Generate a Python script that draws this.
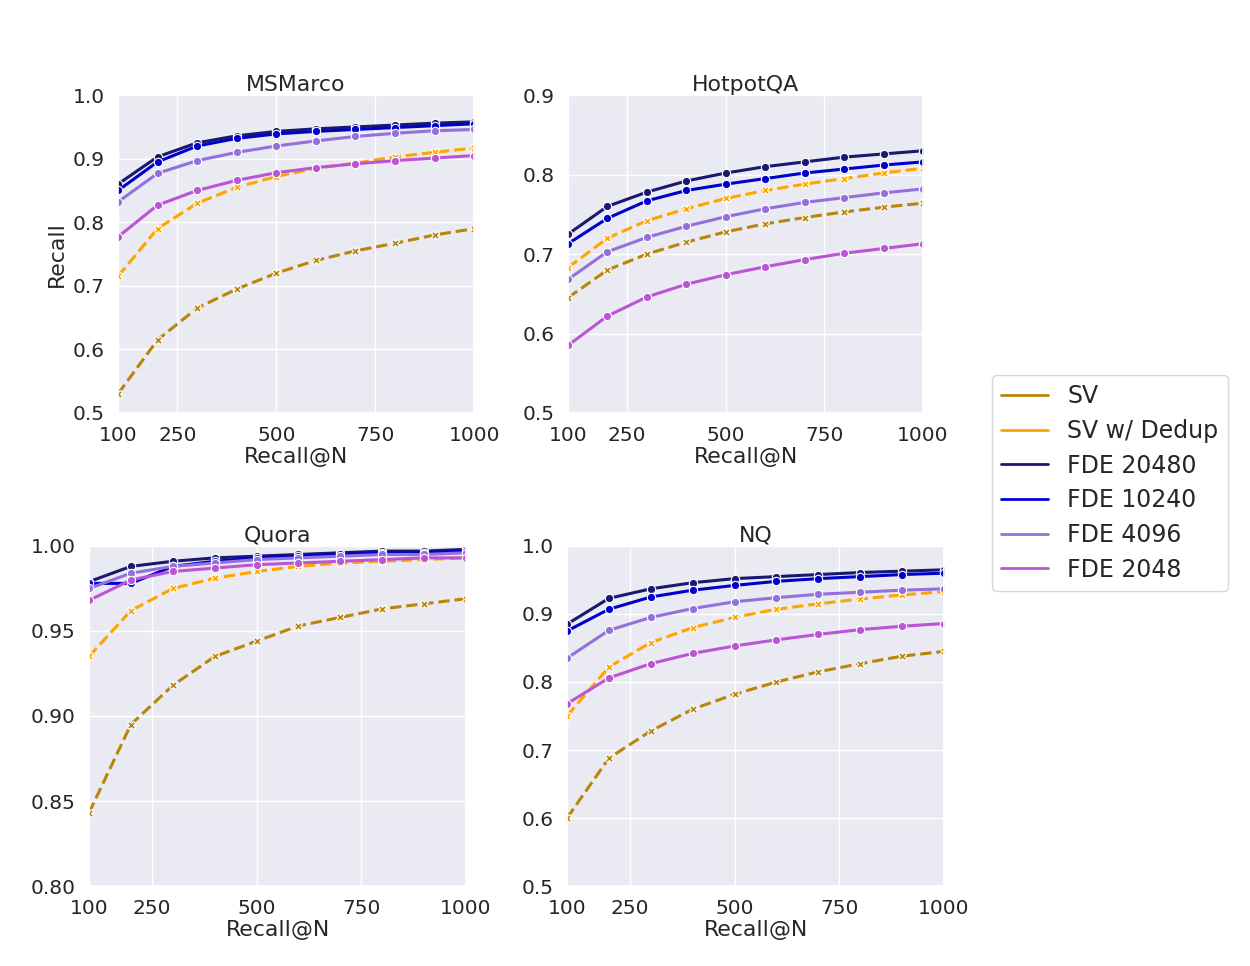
import numpy as np, pandas as pd, matplotlib
matplotlib.use("Agg")
import matplotlib.pyplot as plt, seaborn as sns
from matplotlib.lines import Line2D

N = [100,200,300,400,500,600,700,800,900,1000]
series = ["SV","SV w/ Dedup","FDE 20480","FDE 10240","FDE 4096","FDE 2048"]
colors = ["darkgoldenrod","orange","midnightblue","mediumblue","mediumpurple","mediumorchid"]

msmarco = {
 "SV":[0.53,0.615,0.665,0.695,0.72,0.74,0.755,0.767,0.78,0.79],
 "SV w/ Dedup":[0.715,0.79,0.83,0.855,0.872,0.885,0.893,0.903,0.91,0.917],
 "FDE 20480":[0.86,0.903,0.925,0.936,0.943,0.947,0.95,0.953,0.956,0.958],
 "FDE 10240":[0.85,0.895,0.92,0.932,0.939,0.943,0.946,0.949,0.952,0.955],
 "FDE 4096":[0.832,0.877,0.897,0.91,0.92,0.928,0.935,0.94,0.944,0.946],
 "FDE 2048":[0.777,0.827,0.85,0.866,0.878,0.886,0.892,0.897,0.901,0.905]}
hotpot = {
 "SV":[0.645,0.68,0.7,0.715,0.728,0.738,0.746,0.753,0.759,0.764],
 "SV w/ Dedup":[0.683,0.72,0.742,0.757,0.77,0.78,0.788,0.795,0.802,0.808],
 "FDE 20480":[0.725,0.76,0.778,0.792,0.802,0.81,0.816,0.822,0.826,0.83],
 "FDE 10240":[0.713,0.745,0.767,0.78,0.788,0.795,0.802,0.807,0.812,0.816],
 "FDE 4096":[0.668,0.703,0.721,0.735,0.747,0.757,0.765,0.771,0.777,0.782],
 "FDE 2048":[0.585,0.622,0.646,0.662,0.674,0.684,0.693,0.701,0.707,0.713]}
quora = {
 "SV":[0.843,0.895,0.918,0.935,0.944,0.953,0.958,0.963,0.966,0.969],
 "SV w/ Dedup":[0.935,0.962,0.975,0.981,0.985,0.988,0.990,0.991,0.992,0.993],
 "FDE 20480":[0.979,0.988,0.991,0.993,0.994,0.995,0.996,0.997,0.997,0.998],
 "FDE 10240":[0.978,0.978,0.988,0.991,0.993,0.994,0.995,0.996,0.996,0.997],
 "FDE 4096":[0.975,0.984,0.988,0.99,0.992,0.993,0.994,0.995,0.995,0.996],
 "FDE 2048":[0.968,0.98,0.985,0.987,0.989,0.99,0.991,0.992,0.993,0.993]}
nq = {
 "SV":[0.6,0.688,0.728,0.76,0.782,0.8,0.815,0.827,0.838,0.845],
 "SV w/ Dedup":[0.75,0.822,0.858,0.88,0.895,0.907,0.915,0.922,0.928,0.933],
 "FDE 20480":[0.885,0.923,0.937,0.946,0.952,0.955,0.958,0.961,0.963,0.965],
 "FDE 10240":[0.875,0.907,0.925,0.935,0.942,0.948,0.952,0.955,0.958,0.96],
 "FDE 4096":[0.835,0.876,0.895,0.908,0.918,0.924,0.929,0.932,0.935,0.937],
 "FDE 2048":[0.768,0.806,0.827,0.842,0.853,0.862,0.87,0.877,0.882,0.886]}

panels = [
 ("MSMarco", msmarco, [0.0944,0.5725,0.285,0.329], (0.5,1.0), [0.5,0.6,0.7,0.8,0.9,1.0], "%.1f", True),
 ("HotpotQA", hotpot, [0.4544,0.5725,0.284,0.329], (0.5,0.9), [0.5,0.6,0.7,0.8,0.9], "%.1f", False),
 ("Quora", quora, [0.0712,0.0828,0.3016,0.352], (0.8,1.0), [0.8,0.85,0.9,0.95,1.0], "%.2f", False),
 ("NQ", nq, [0.4536,0.0828,0.3016,0.352], (0.5,1.0), [0.5,0.6,0.7,0.8,0.9,1.0], "%.1f", False)]

sns.set_theme(style="darkgrid", font_scale=1.32)
fig = plt.figure(figsize=(12.5,9.66), dpi=100)
for title, data, pos, ylim, yt, fmt, ylab in panels:
    ax = fig.add_axes(pos)
    rows = [(n, s, v) for s in series for n, v in zip(N, data[s])]
    df = pd.DataFrame(rows, columns=["N","series","val"])
    for s, c in zip(series, colors):
        sub = df[df.series == s]
        sv = s.startswith("SV")
        sns.lineplot(data=sub, x="N", y="val", ax=ax, color=c, lw=2.2,
                     linestyle="--" if sv else "-", marker="X" if sv else "o",
                     markersize=6, markeredgecolor="white", markeredgewidth=0.8)
    ax.set_xlim(100,1000); ax.set_ylim(*ylim)
    ax.set_xticks([100,250,500,750,1000]); ax.set_yticks(yt)
    ax.set_yticklabels([fmt % v for v in yt])
    ax.set_title(title, pad=3)
    ax.set_xlabel("Recall@N", labelpad=1)
    ax.set_ylabel("Recall" if ylab else "")

handles = [Line2D([0],[0], color=c, lw=2) for c in colors]
fig.legend(handles, series, loc="center left", bbox_to_anchor=(0.784,0.5),
           frameon=True, facecolor="white", edgecolor="#cccccc", fontsize=17,
           labelspacing=0.45)
fig.savefig("out.png", dpi=100)
